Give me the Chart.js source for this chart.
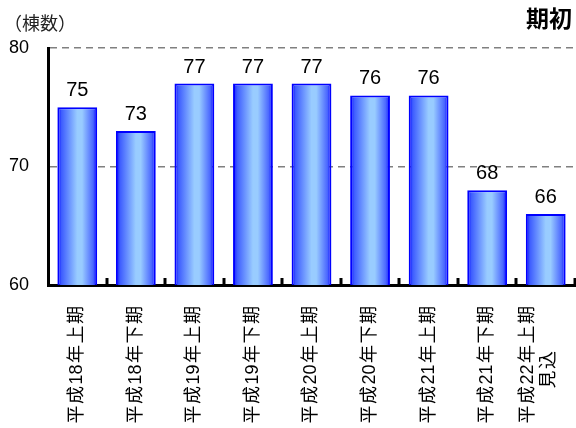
<!DOCTYPE html>
<html>
<head>
<meta charset="utf-8">
<script src="https://cdn.jsdelivr.net/npm/chart.js@4/dist/chart.umd.min.js"></script>
<style>
  html, body { margin: 0; padding: 0; background: #fff; }
</style>
</head>
<body>
<canvas id="chart" width="576" height="428"></canvas>
<script>
const periods = [
    '平成18年上期', '平成18年下期', '平成19年上期', '平成19年下期',
    '平成20年上期', '平成20年下期', '平成21年上期', '平成21年下期',
    ['平成22年上期', '見込']
];
const counts = [75, 73, 77, 77, 77, 76, 76, 68, 66];
const yMin = 60;
const yMax = 80;
const yStep = 10;
const unitLabel = '（棟数）';
const cornerLabel = '期初';

const FONT = '"Liberation Sans", "Noto Sans CJK JP", sans-serif';
const barPct = 0.68;

// 文字間を少し空ける(数字同士はそのまま)
function spaced(s) {
    let out = '';
    for (let i = 0; i < s.length; i++) {
        out += s[i];
        const next = s[i + 1];
        if (next === undefined) break;
        if (/[0-9]/.test(s[i]) && /[0-9]/.test(next)) continue;
        out += '\u200A';
    }
    return out;
}

const measureCtx = document.createElement('canvas').getContext('2d');
measureCtx.font = '18px ' + FONT;

function tickLabel(value) {
    const raw = periods[value];
    if (!Array.isArray(raw)) return spaced(raw);
    const lines = raw.map(spaced);
    const widths = lines.map(l => measureCtx.measureText(l).width);
    const maxW = Math.max(...widths);
    // 短い行は中央寄せに見えるよう空白で詰める
    return lines.map((l, i) => {
        if (widths[i] >= maxW) return l;
        const pad = (maxW - widths[i]) / 2 + 6;
        const full = Math.floor(pad / 18);
        const en = Math.round((pad - full * 18) / 9);
        return l + '\u3000'.repeat(full) + '\u2002'.repeat(en);
    });
}

function barFill(context) {
    const chart = context.chart;
    const xs = chart.scales.x;
    if (!chart.chartArea || !xs || context.dataIndex === undefined) return '#6699ff';
    const c = xs.getPixelForValue(context.dataIndex);
    if (!isFinite(c)) return '#6699ff';
    const half = xs.width / periods.length * barPct / 2;
    const g = chart.ctx.createLinearGradient(c - half, 0, c + half, 0);
    g.addColorStop(0, '#0000ff');
    g.addColorStop(0.1, '#3d5cff');
    g.addColorStop(0.5, '#99ccff');
    g.addColorStop(0.62, '#99ccff');
    g.addColorStop(0.9, '#4a66ff');
    g.addColorStop(1, '#0000ff');
    return g;
}

const decorations = {
    id: 'decorations',
    beforeDraw(chart) {
        // 2行ラベルは行のまとまりを目盛りの中央に寄せる
        const items = chart.scales.x.getLabelItems();
        items.forEach(item => {
            if (Array.isArray(item.label) && item.label.length > 1) {
                item.textOffset = -7;
            }
        });
    },
    afterDatasetsDraw(chart) {
        const ctx = chart.ctx;
        const meta = chart.getDatasetMeta(0);
        ctx.save();
        ctx.fillStyle = '#000';
        ctx.font = '20px ' + FONT;
        ctx.textAlign = 'center';
        ctx.textBaseline = 'alphabetic';
        meta.data.forEach((bar, i) => {
            ctx.fillText(String(counts[i]), bar.x, bar.y - 11);
        });
        ctx.restore();
    },
    afterDraw(chart) {
        const ctx = chart.ctx;
        const xs = chart.scales.x;
        const bottom = chart.chartArea.bottom;
        ctx.save();
        // カテゴリ境界の目盛り(内向き)
        ctx.strokeStyle = '#000';
        ctx.lineWidth = 3;
        for (let i = 0; i < periods.length; i++) {
            const x = Math.round(xs.getPixelForValue(i + 0.5));
            ctx.beginPath();
            ctx.moveTo(x, bottom);
            ctx.lineTo(x, bottom - 7);
            ctx.stroke();
        }
        ctx.fillStyle = '#222';
        ctx.textBaseline = 'middle';
        ctx.textAlign = 'left';
        ctx.font = '18px ' + FONT;
        ctx.fillText(unitLabel, 4, 25);
        ctx.fillStyle = '#000';
        ctx.textAlign = 'right';
        ctx.font = 'bold 23px ' + FONT;
        ctx.fillText(cornerLabel, 572, 21);
        ctx.restore();
    }
};

const ctx = document.getElementById('chart').getContext('2d');
const chart = new Chart(ctx, {
    type: 'bar',
    data: {
        labels: periods,
        datasets: [{
            data: counts,
            backgroundColor: barFill,
            borderColor: '#0000ff',
            borderWidth: 2,
            barPercentage: barPct,
            categoryPercentage: 1
        }]
    },
    options: {
        responsive: false,
        animation: false,
        layout: {
            padding: { top: 48, right: 1, bottom: 0, left: 0 }
        },
        plugins: {
            legend: { display: false },
            tooltip: { enabled: false }
        },
        scales: {
            x: {
                grid: { display: false },
                border: { display: true, color: '#000', width: 3 },
                ticks: {
                    color: '#000',
                    font: { family: FONT, size: 18 },
                    minRotation: 90,
                    maxRotation: 90,
                    autoSkip: false,
                    padding: 13,
                    callback: tickLabel
                },
                afterFit(scale) {
                    scale.height = 143;
                    scale.paddingLeft = 0;
                    scale.paddingRight = 0;
                }
            },
            y: {
                min: yMin,
                max: yMax,
                grid: { color: '#808080', lineWidth: 1.5, drawTicks: false },
                border: { display: true, color: '#000', width: 3, dash: [7, 5] },
                ticks: {
                    stepSize: yStep,
                    color: '#000',
                    font: { family: FONT, size: 18 },
                    padding: 19
                },
                afterFit(scale) { scale.width = 48; }
            }
        }
    },
    plugins: [decorations]
});
</script>
</body>
</html>
